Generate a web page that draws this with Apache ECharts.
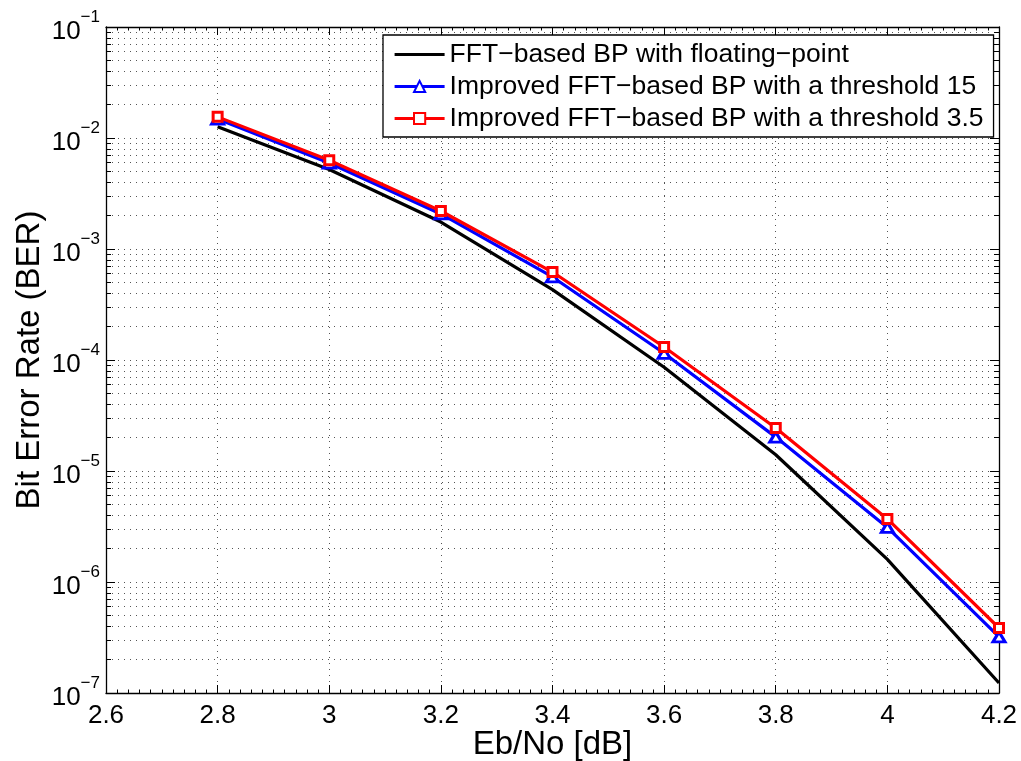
<!DOCTYPE html>
<html>
<head>
<meta charset="utf-8">
<script src="https://cdn.jsdelivr.net/npm/echarts@6/dist/echarts.min.js"></script>
<style>
  html, body { margin: 0; padding: 0; background: #fff; }
  #chart { width: 1021px; height: 761px; }
</style>
</head>
<body>
<div id="chart"></div>
<script>
// Eb/No operating points (dB)
const ebNo = [2.8, 3.0, 3.2, 3.4, 3.6, 3.8, 4.0, 4.2];

// Bit error rates per decoder variant
const berFloating    = [1.26e-2, 5.2e-3, 1.75e-3, 4.3e-4, 8.6e-5, 1.40e-5, 1.6e-6, 1.23e-7];
const berThreshold15 = [1.48e-2, 5.95e-3, 2.07e-3, 5.6e-4, 1.15e-4, 2.02e-5, 3.1e-6, 3.2e-7];
const berThreshold35 = [1.55e-2, 6.3e-3, 2.2e-3, 6.2e-4, 1.31e-4, 2.44e-5, 3.7e-6, 3.85e-7];

const seriesNames = [
  'FFT\u2212based BP with floating\u2212point',
  'Improved FFT\u2212based BP with a threshold 15',
  'Improved FFT\u2212based BP with a threshold 3.5'
];

// Axis ticks
const xMin = 2.6, xMax = 4.2, xStep = 0.2;
const yDecades = [1e-7, 1e-6, 1e-5, 1e-4, 1e-3, 1e-2, 1e-1];
const minorMultipliers = [2, 3, 4, 5, 6, 7, 8, 9];
const yMinor = [];
yDecades.slice(0, -1).forEach(d => minorMultipliers.forEach(m => yMinor.push(+(d * m).toPrecision(3))));

const FONT = '"Liberation Sans", Arial, Helvetica, sans-serif';

const pairs = ys => ebNo.map((x, i) => [x, ys[i]]);

const gridLine = { show: true, lineStyle: { color: '#555', width: 1, type: [1, 5] } };
const boxLine = { show: true, onZero: false, lineStyle: { color: '#000', width: 1.3 } };

function yLabel(v) {
  const e = Math.round(Math.log10(v));
  return '{b|10}{s|\u2212' + Math.abs(e) + '}';
}

function logAxis(position, ticks, tickLen, opts) {
  return Object.assign({
    type: 'log',
    logBase: 10,
    min: 1e-7,
    max: 1e-1,
    position: position,
    axisLine: { show: false },
    axisTick: { show: true, inside: true, length: tickLen, customValues: ticks, lineStyle: { color: '#000', width: 1 } },
    axisLabel: { show: false },
    splitLine: { show: false }
  }, opts || {});
}

const chart = echarts.init(document.getElementById('chart'));

chart.setOption({
  backgroundColor: '#fff',
  animation: false,
  textStyle: { fontFamily: FONT },
  grid: { left: 106, right: 22, top: 27, bottom: 68, containLabel: false, outerBoundsMode: 'none' },
  legend: {
    orient: 'vertical',
    left: 383,
    top: 35,
    itemWidth: 50,
    itemHeight: 14,
    itemGap: 5,
    padding: [6, 10, 5, 10],
    borderColor: '#000',
    borderWidth: 1.3,
    backgroundColor: '#fff',
    lineStyle: { width: 3.2 },
    data: [
      { name: seriesNames[0], itemStyle: { opacity: 0 } },
      { name: seriesNames[1] },
      { name: seriesNames[2] }
    ],
    textStyle: { fontSize: 26.5, fontFamily: FONT, color: '#000' }
  },
  xAxis: [
    {
      type: 'value',
      min: xMin, max: xMax, interval: xStep,
      position: 'bottom',
      axisLine: boxLine,
      axisTick: { show: true, inside: true, length: 8, lineStyle: { color: '#000' } },
      minorTick: { show: true, splitNumber: 10, length: 3.5, lineStyle: { color: '#000' } },
      splitLine: gridLine,
      axisLabel: { fontSize: 26, color: '#000', margin: 10, fontFamily: FONT },
      name: 'Eb/No [dB]',
      nameLocation: 'middle',
      nameMoveOverlap: false,
      nameGap: 35,
      nameTextStyle: { fontSize: 33, color: '#000', fontFamily: FONT }
    },
    {
      type: 'value',
      min: xMin, max: xMax, interval: xStep,
      position: 'top',
      axisLine: boxLine,
      axisTick: { show: true, inside: true, length: 8, lineStyle: { color: '#000' } },
      minorTick: { show: true, splitNumber: 10, length: 3.5, lineStyle: { color: '#000' } },
      splitLine: { show: false },
      axisLabel: { show: false }
    }
  ],
  yAxis: [
    logAxis('left', yDecades, 9, {
      axisLine: boxLine,
      splitLine: gridLine,
      axisLabel: {
        show: true,
        customValues: yDecades,
        margin: 6,
        formatter: yLabel,
        rich: {
          b: { fontSize: 26, lineHeight: 36, verticalAlign: 'bottom', color: '#000', fontFamily: FONT },
          s: { fontSize: 17, lineHeight: 17, verticalAlign: 'top', color: '#000', fontFamily: FONT }
        }
      },
      name: 'Bit Error Rate (BER)',
      nameLocation: 'middle',
      nameMoveOverlap: false,
      nameGap: 60,
      nameTextStyle: { fontSize: 33, color: '#000', fontFamily: FONT }
    }),
    logAxis('left', yMinor, 5, { splitLine: gridLine }),
    logAxis('right', yDecades, 9, { axisLine: boxLine }),
    logAxis('right', yMinor, 5)
  ],
  series: [
    {
      name: seriesNames[0],
      type: 'line',
      data: pairs(berFloating),
      symbol: 'none',
      lineStyle: { color: '#000', width: 3.2 },
      itemStyle: { color: '#000' }
    },
    {
      name: seriesNames[1],
      type: 'line',
      data: pairs(berThreshold15),
      symbol: 'triangle',
      symbolSize: [12, 10],
      lineStyle: { color: '#0000ff', width: 3.2 },
      itemStyle: { color: '#fff', borderColor: '#0000ff', borderWidth: 3 }
    },
    {
      name: seriesNames[2],
      type: 'line',
      data: pairs(berThreshold35),
      symbol: 'rect',
      symbolSize: 9,
      lineStyle: { color: '#ff0000', width: 3.2 },
      itemStyle: { color: '#fff', borderColor: '#ff0000', borderWidth: 3 }
    }
  ]
});
</script>
</body>
</html>
